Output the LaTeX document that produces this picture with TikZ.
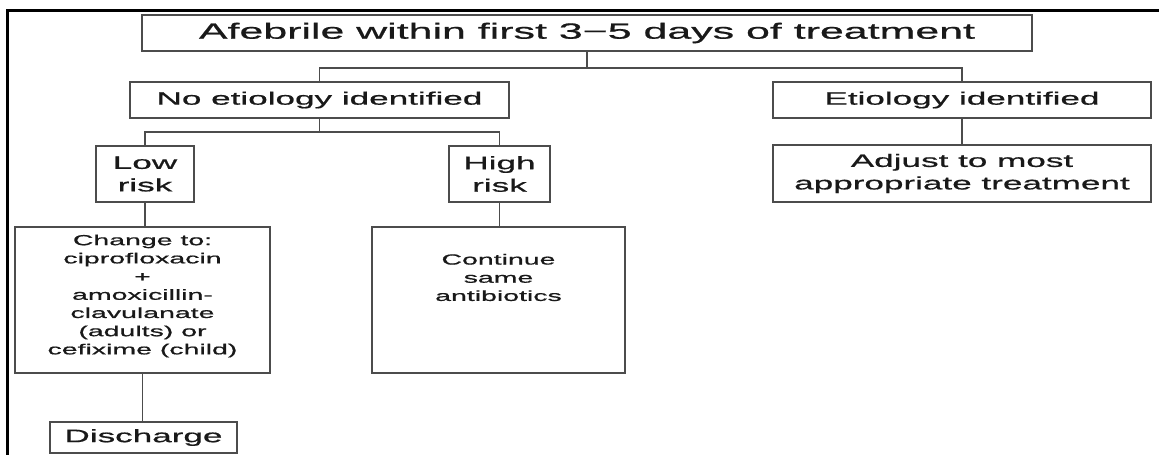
\documentclass[tikz,border=0pt]{standalone}
\usepackage{fontspec}
\setmainfont{Liberation Sans}[FakeStretch=1.95,FakeBold=0.8]
\begin{document}
\begin{tikzpicture}[x=1pt,y=-1pt,
  box/.style={draw=black!70, line width=1.6pt, inner sep=0pt, outer sep=0pt, align=center, text=black!90},
  big/.style={font=\fontsize{22}{26}\selectfont},
  mid/.style={font=\fontsize{18}{22.5}\selectfont},
  small/.style={font=\fontsize{14.6}{18.2}\selectfont, align=center, text=black!90, inner sep=0pt},
  conn/.style={draw=black!70, line width=1.6pt}]
\useasboundingbox (0,0) rectangle (1159,455);
\fill[white] (0,0) rectangle (1159,455);
% frame
\draw[line width=3pt] (7,460) -- (7,10) -- (1162,10);
% boxes
\node[box, big, minimum width=890pt, minimum height=36pt] (top) at (587,33) {Afebrile within first 3−5 days of treatment};
\node[box, mid, minimum width=379pt, minimum height=36pt] (noet) at (319.5,100) {No etiology identified};
\node[box, mid, minimum width=378pt, minimum height=36pt] (etio) at (962,100) {Etiology identified};
\node[box, mid, minimum width=378pt, minimum height=57pt] (adj) at (962,173.5) {Adjust to most\\appropriate treatment};
\node[box, mid, minimum width=98pt, minimum height=56pt] (low) at (145,174) {Low\\risk};
\node[box, mid, minimum width=101pt, minimum height=56pt] (high) at (499.5,174) {High\\risk};
\node[box, minimum width=255pt, minimum height=146pt] (change) at (142.5,300) {};
\node[small] (changetxt) at (142.5,296) {Change to:\\ciprofloxacin\\+\\amoxicillin-\\clavulanate\\(adults) or\\cefixime (child)};
\node[box, minimum width=253pt, minimum height=146pt] (cont) at (498.5,300) {};
\node[small] (conttxt) at (498.5,277.5) {Continue\\same\\antibiotics};
\node[box, mid, minimum width=187pt, minimum height=31pt] (dis) at (143.5,437.5) {Discharge};
% connectors
\coordinate (b1) at (587,68);
\coordinate (b2) at (319.5,132);
\draw[conn] (top.south) -- (b1) -| (noet.north);
\draw[conn] (b1) -| (etio.north);
\draw[conn] (etio.south) -- (adj.north);
\draw[conn] (noet.south) -- (b2) -| (low.north);
\draw[conn] (b2) -| (high.north);
\draw[conn] (low.south) -- (low.south |- change.north);
\draw[conn] (high.south) -- (high.south |- cont.north);
\draw[conn] (change.south) -- (change.south |- dis.north);
\end{tikzpicture}
\end{document}
